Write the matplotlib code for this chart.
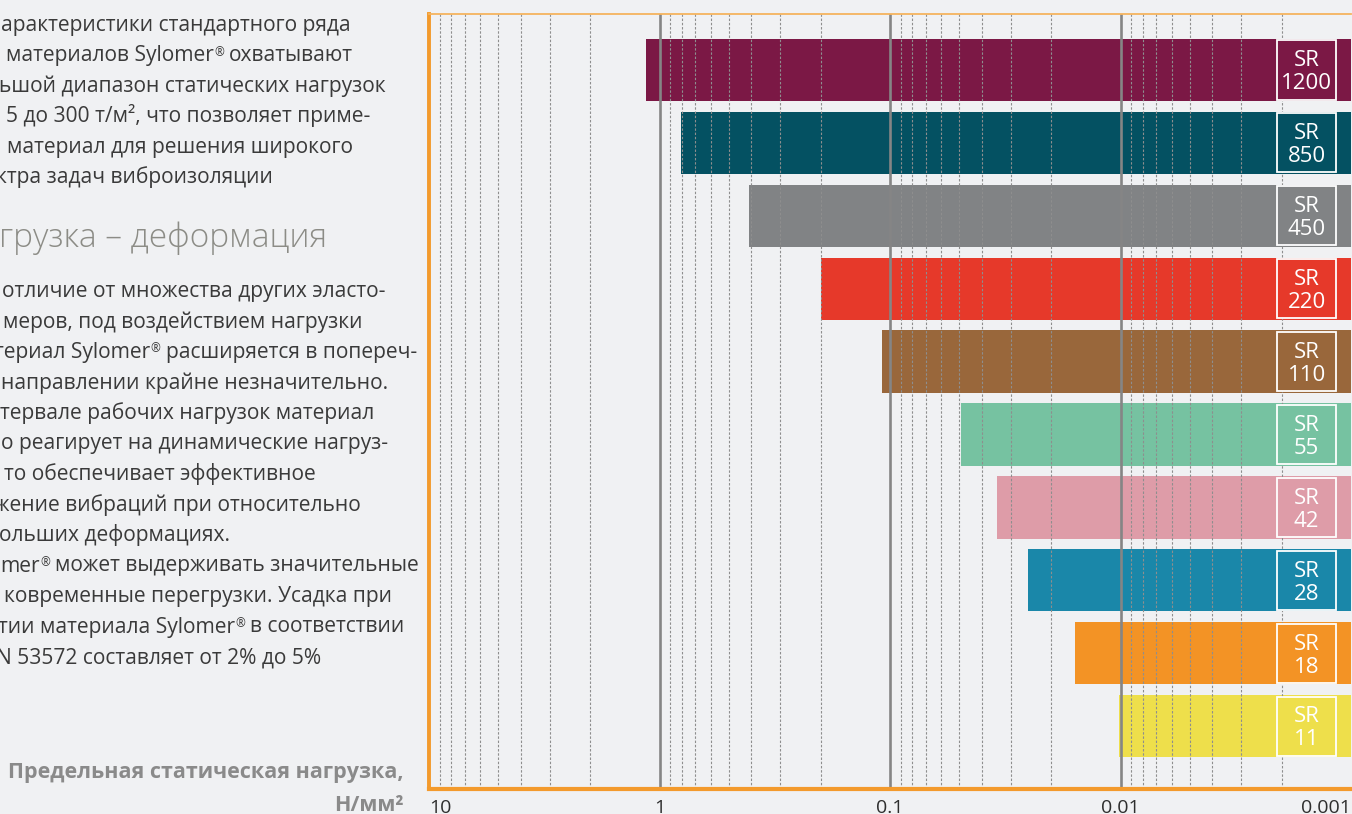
import matplotlib
matplotlib.use("Agg")
import matplotlib.pyplot as plt
from matplotlib.patches import Rectangle

plt.rcParams['font.family'] = ['Open Sans', 'DejaVu Sans']

# ---------------- data ----------------
materials = ['1200', '850', '450', '220', '110', '55', '42', '28', '18', '11']
max_load = [1.15, 0.805, 0.408, 0.199, 0.108, 0.0491, 0.0343, 0.0251, 0.0157, 0.0102]
bar_colors = ['#7b1845', '#045162', '#818385', '#e6392a', '#99673b',
              '#76c2a1', '#de9ca8', '#1a87a9', '#f39325', '#eedf4b']
tick_values = [10, 1, 0.1, 0.01, 0.001]
tick_labels = ['10', '1', '0.1', '0.01', '0.001']

W, H = 1352, 814
BG = '#f0f1f3'
ORANGE = '#f39a2c'

fig = plt.figure(figsize=(W / 100, H / 100), dpi=100)
fig.patch.set_facecolor(BG)

ax = fig.add_axes([429 / W, 1 - 789 / H, 922 / W, 775 / H])
ax.set_facecolor(BG)
ax.set_xscale('log')
ax.set_xlim(10, 0.001)
ax.set_ylim(9.863, -0.768)

x_base = 0.0003
ys = list(range(len(materials)))
ax.barh(ys, [v - x_base for v in max_load], left=x_base, height=0.855,
        color=bar_colors, zorder=1)

# grid lines (drawn over bars)
for e in [1, 0, -1, -2, -3]:
    for s in range(2, 10):
        ax.axvline(s * 10.0 ** (e - 1), color='#8e8e8e', lw=0.8,
                   dashes=(2.2, 1.6), zorder=2)
for v in [1, 0.1, 0.01]:
    ax.axvline(v, color='#858585', lw=1.9, zorder=2.2)

# label boxes
bx_left, bx_right = 0.002094, 0.00116
for i, (m, c) in enumerate(zip(materials, bar_colors)):
    ax.add_patch(Rectangle((bx_right, i - 0.405), bx_left - bx_right, 0.81,
                           facecolor=c, edgecolor='white', lw=1.3, zorder=3))
    xc = (bx_left * bx_right) ** 0.5
    ax.text(xc, i - 0.125, 'SR', color='white', fontsize=16, ha='center',
            va='center', zorder=4)
    ax.text(xc, i + 0.19, m, color='white', fontsize=16, ha='center',
            va='center', zorder=4)

# spines
ax.spines['right'].set_visible(False)
ax.spines['left'].set_color(ORANGE)
ax.spines['left'].set_linewidth(2.8)
ax.spines['bottom'].set_color(ORANGE)
ax.spines['bottom'].set_linewidth(3.0)
ax.spines['top'].set_color('#f5b45e')
ax.spines['top'].set_linewidth(1.3)

ax.set_yticks([])
ax.set_xticks(tick_values)
ax.set_xticklabels(tick_labels)
ax.xaxis.set_minor_locator(matplotlib.ticker.NullLocator())
ax.tick_params(axis='x', length=0, pad=7, labelsize=14, labelcolor='#2e2e2e')
lbls = ax.get_xticklabels()
lbls[0].set_ha('left')
lbls[-1].set_ha('right')


# ---------------- left text column ----------------
renderer = fig.canvas.get_renderer()
BODY_SIZE = 15.1
BODY_COLOR = '#3a3a3a'
SPACE = 5.0


def ftext(x, y, s, **kw):
    return fig.text(x / W, 1 - y / H, s, va='baseline',
                    ha=kw.pop('ha', 'left'), **kw)


def body_line(x, y, s):
    # '®' is drawn as a small raised mark, the rest as normal body text
    parts = s.split('®')
    cx = x
    for j, p in enumerate(parts):
        gap_before = 0.0
        if p.startswith(' '):
            gap_before = SPACE
            p = p[1:]
        cx += gap_before
        if p:
            t = ftext(cx, y, p, fontsize=BODY_SIZE, color=BODY_COLOR)
            cx = t.get_window_extent(renderer=renderer).x1
        if j < len(parts) - 1:
            t = ftext(cx + 0.5, y - 5.5, '®', fontsize=8.5, color=BODY_COLOR)
            cx = t.get_window_extent(renderer=renderer).x1


para1 = [(1, "арактеристики стандартного ряда"),
         (6, "материалов Sylomer® охватывают"),
         (-1, "ьшой диапазон статических нагрузок"),
         (6, "5 до 300 т/м², что позволяет приме-"),
         (7, "материал для решения широкого"),
         (-4, "ктра задач виброизоляции")]
for k, (x, s) in enumerate(para1):
    body_line(x, 31 + 30.4 * k, s)

ftext(-1, 247, "грузка – деформация", fontsize=24, color='#8c8c86',
      fontweight='light')

para2 = [(2, "отличие от множества других эласто-"),
         (3, "меров, под воздействием нагрузки"),
         (-6, "териал Sylomer® расширяется в попереч-"),
         (1, "направлении крайне незначительно."),
         (0, "тервале рабочих нагрузок материал"),
         (1, "о реагирует на динамические нагруз-"),
         (4, "то обеспечивает эффективное"),
         (-6, "жение вибраций при относительно"),
         (-1, "ольших деформациях."),
         (0, "mer® может выдерживать значительные"),
         (4, "ковременные перегрузки. Усадка при"),
         (-2, "тии материала Sylomer® в соответствии"),
         (-4, "N 53572 составляет от 2% до 5%")]
for k, (x, s) in enumerate(para2):
    body_line(x, 297 + 30.5 * k, s)

ftext(404, 778, "Предельная статическая нагрузка,", ha='right', fontsize=15.5,
      fontweight='bold', color='#8a8a8a')
ftext(404, 811, "Н/мм²", ha='right', fontsize=15.5, fontweight='bold',
      color='#8a8a8a')

fig.savefig('out.png', dpi=100, facecolor=BG)
